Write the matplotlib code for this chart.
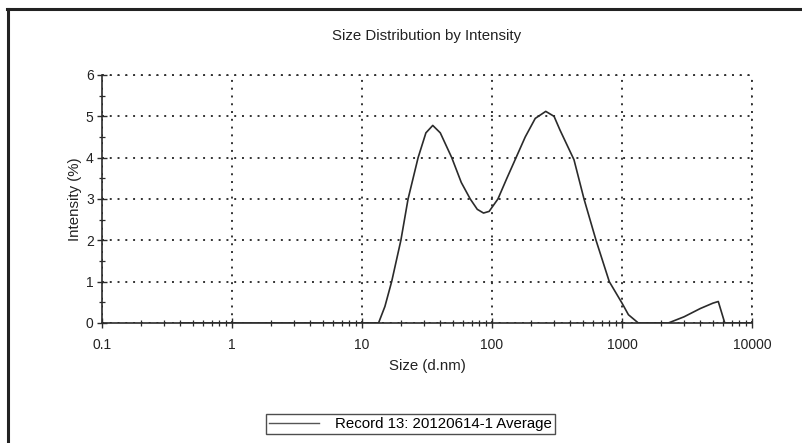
import matplotlib.pyplot as plt
from matplotlib.lines import Line2D
from matplotlib.ticker import FixedLocator, LogLocator, NullFormatter

plt.rcParams['font.family'] = ['Liberation Sans', 'DejaVu Sans']

size_nm = [0.4, 1, 5, 10, 12, 13.4, 15, 16.9, 19.9, 22.6, 27, 31, 35, 40,
           49, 58, 68, 77, 86, 95, 111, 130, 153, 180, 215, 259, 300, 333,
           427, 510, 631, 798, 1000, 1120, 1334, 2270, 3000, 4000, 5000,
           5500, 6170, 10000]
intensity = [0, 0, 0, 0, 0, 0, 0.4, 1, 2, 3, 4, 4.6, 4.78, 4.6,
             4, 3.4, 3, 2.75, 2.66, 2.7, 3, 3.5, 4, 4.5, 4.95, 5.12, 5.0, 4.67,
             3.95, 3, 2, 1, 0.48, 0.2, 0, 0, 0.15, 0.35, 0.48,
             0.52, 0, 0]

x_ticks = [0.1, 1, 10, 100, 1000, 10000]
x_labels = ['0.1', '1', '10', '100', '1000', '10000']
y_ticks = [0, 1, 2, 3, 4, 5, 6]
legend_label = 'Record 13: 20120614-1 Average'

ink = '#2b2b2b'
dots = (0, (1, 3))

fig = plt.figure(figsize=(8.02, 4.43), dpi=100)
ax = fig.add_axes([0.1272, 0.2709, 0.8105, 0.5598])

ax.plot(size_nm, intensity, color=ink, lw=1.2, label=legend_label)

ax.set_xscale('log')
ax.set_xlim(0.1, 10000)
ax.set_ylim(0, 6)
ax.set_xticks(x_ticks)
ax.set_xticklabels(x_labels)
ax.xaxis.set_minor_locator(LogLocator(base=10, subs=range(2, 10), numticks=20))
ax.xaxis.set_minor_formatter(NullFormatter())
ax.set_yticks(y_ticks)
ax.yaxis.set_minor_locator(FixedLocator([0.5, 1.5, 2.5, 3.5, 4.5, 5.5]))

ax.tick_params(which='major', direction='inout', length=7, width=1,
               color=ink, labelsize=10, labelcolor='#222')
ax.tick_params(axis='x', which='major', pad=7)
ax.tick_params(axis='y', which='major', pad=2.5)
ax.tick_params(which='minor', direction='inout', length=5, width=0.9,
               color=ink)

ax.grid(True, which='major', color='#333', lw=1.4, linestyle=dots)
for s in ['top', 'right']:
    ax.spines[s].set_visible(False)
for s in ['left', 'bottom']:
    ax.spines[s].set_color(ink)
    ax.spines[s].set_linewidth(1.2)
# dotted frame on top/right like the gridlines
ax.axhline(6, color='#333', lw=1.4, linestyle=dots, clip_on=False)
ax.axvline(10000, color='#333', lw=1.4, linestyle=dots, clip_on=False)

ax.set_title('Size Distribution by Intensity', fontsize=10.8, color='#222', pad=25)
ax.set_xlabel('Size (d.nm)', fontsize=10.8, color='#222', labelpad=5)
ax.set_ylabel('Intensity (%)', fontsize=10.8, color='#222', labelpad=3)

leg = ax.legend(loc='center', bbox_to_anchor=(0.4746, -0.409), fontsize=10.8,
                frameon=True, fancybox=False, handlelength=3.3,
                handletextpad=1.1, borderpad=0.2, borderaxespad=0)
leg.get_frame().set_edgecolor('#222')
leg.get_frame().set_linewidth(1.0)
leg.get_lines()[0].set_linewidth(1.0)
leg.get_lines()[0].set_color('#555')

# page border of the scanned report
fig.add_artist(Line2D([0.009, 1.0], [0.9797, 0.9797], transform=fig.transFigure,
                      color='#222', lw=2.2))
fig.add_artist(Line2D([0.0105, 0.0105], [0.0, 0.9797], transform=fig.transFigure,
                      color='#222', lw=2.2))

fig.savefig('out.png', dpi=100)
